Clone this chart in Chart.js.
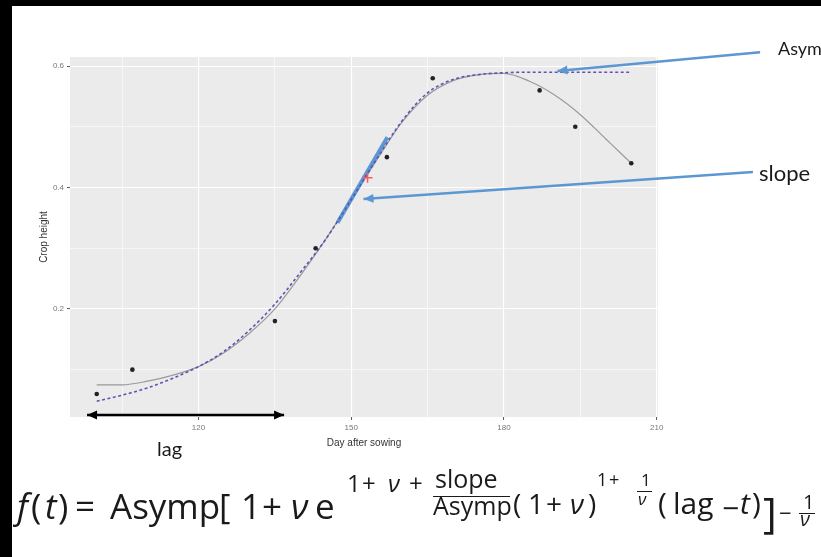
<!DOCTYPE html>
<html>
<head>
    <title>Crop height growth curve</title>
    <script src="https://cdn.jsdelivr.net/npm/chart.js"></script>
    <style>
        body { margin: 0; background: #fff; }
        #wrap { position: relative; width: 821px; height: 557px; overflow: hidden; }
        #notes span { position: absolute; line-height: 0; white-space: pre; color: #1a1a1a; }
        #notes .bar { position: absolute; height: 0; border-top: 1.5px solid #1a1a1a; }
        .lbl { font-family: 'Lato', sans-serif; }
        .fm { font-family: 'Open Sans', sans-serif; }
    </style>
</head>
<body>
<div id="wrap">
    <canvas id="growth"></canvas>
    <div id="notes"></div>
</div>

<script>
    // observed crop heights
    const pointX = [100, 107, 135, 143, 157, 166, 187, 194, 205];
    const pointY = [0.06, 0.10, 0.18, 0.30, 0.45, 0.58, 0.56, 0.50, 0.44];

    // curves
    const curveX = [100, 105, 110, 115, 120, 125, 130, 135, 140, 145, 150, 155, 160, 165, 170, 175, 180, 185, 190, 195, 200, 205];
    const loessY = [0.075, 0.075, 0.081, 0.091, 0.105, 0.128, 0.160, 0.200, 0.255, 0.315, 0.380, 0.445, 0.508, 0.552, 0.576, 0.586, 0.588, 0.575, 0.552, 0.520, 0.480, 0.440];
    const fitY   = [0.048, 0.058, 0.070, 0.086, 0.105, 0.130, 0.165, 0.208, 0.260, 0.315, 0.380, 0.447, 0.510, 0.556, 0.578, 0.586, 0.589, 0.590, 0.590, 0.590, 0.590, 0.590];

    // slope at inflection point
    const tangentX = [147.3, 157.1];
    const tangentY = [0.342, 0.483];
    const inflectionX = [153.2];
    const inflectionY = [0.416];

    // axes
    const xMin = 94.75, xMax = 210.25;
    const yMin = 0.022, yMax = 0.615;
    const xTicks = [105, 120, 135, 150, 165, 180, 195, 210];
    const xTickLabels = ['', '120', '', '150', '', '180', '', '210'];
    const yTicks = [0.1, 0.2, 0.3, 0.4, 0.5, 0.6];
    const yTickLabels = ['', '0.2', '', '0.4', '', '0.6'];

    // annotation arrows, in data units
    const asympArrow = [[230.3, 0.623], [190.5, 0.592]];
    const slopeArrow = [[228.9, 0.4255], [152.4, 0.381]];
    const lagArrow = [[98.1, 0.0255], [136.8, 0.0255]];

    const zip = (xs, ys) => xs.map((x, i) => ({x: x, y: ys[i]}));
    const blue = '#5b97d3';

    function arrowHead(ctx, x1, y1, x2, y2, len, half) {
        const a = Math.atan2(y2 - y1, x2 - x1);
        ctx.beginPath();
        ctx.moveTo(x2, y2);
        ctx.lineTo(x2 - len * Math.cos(a) + half * Math.sin(a), y2 - len * Math.sin(a) - half * Math.cos(a));
        ctx.lineTo(x2 - len * Math.cos(a) - half * Math.sin(a), y2 - len * Math.sin(a) + half * Math.cos(a));
        ctx.closePath();
        ctx.fill();
    }

    function arrow(chart, pts, color, width, both) {
        const ctx = chart.ctx, sx = chart.scales.x, sy = chart.scales.y;
        const x1 = sx.getPixelForValue(pts[0][0]), y1 = sy.getPixelForValue(pts[0][1]);
        const x2 = sx.getPixelForValue(pts[1][0]), y2 = sy.getPixelForValue(pts[1][1]);
        ctx.save();
        ctx.strokeStyle = color;
        ctx.fillStyle = color;
        ctx.lineWidth = width;
        ctx.beginPath();
        ctx.moveTo(x1, y1);
        ctx.lineTo(x2, y2);
        ctx.stroke();
        arrowHead(ctx, x1, y1, x2, y2, 10, 4.5);
        if (both) arrowHead(ctx, x2, y2, x1, y1, 10, 4.5);
        ctx.restore();
    }

    const panel = {
        id: 'panel',
        beforeDraw(chart) {
            const {ctx, chartArea: a} = chart;
            ctx.save();
            ctx.fillStyle = '#fff';
            ctx.fillRect(0, 0, chart.width, chart.height);
            ctx.fillStyle = '#ebebeb';
            ctx.fillRect(a.left, a.top, a.right - a.left, a.bottom - a.top);
            ctx.restore();
        },
        afterDraw(chart) {
            arrow(chart, asympArrow, blue, 2.5, false);
            arrow(chart, slopeArrow, blue, 2.5, false);
            arrow(chart, lagArrow, '#000', 2.5, true);
            const ctx = chart.ctx;
            ctx.save();
            ctx.fillStyle = '#000';
            ctx.fillRect(0, 0, chart.width, 6);
            ctx.fillRect(0, 0, 12, chart.height);
            ctx.restore();
        }
    };

    const gridColor = '#ffffff';
    const isMajor = (labels, i) => labels[i] !== '';

    new Chart(document.getElementById('growth'), {
        type: 'scatter',
        data: {
            datasets: [
                {
                    label: 'observed',
                    data: zip(pointX, pointY),
                    backgroundColor: '#222',
                    borderWidth: 0,
                    pointRadius: 2.3
                },
                {
                    label: 'inflection',
                    data: zip(inflectionX, inflectionY),
                    pointStyle: 'cross',
                    borderColor: '#ff5a5a',
                    borderWidth: 1.5,
                    pointRadius: 5
                },
                {
                    label: 'fitted',
                    data: zip(curveX, fitY),
                    showLine: true,
                    borderColor: '#5e55b2',
                    borderWidth: 1.6,
                    borderDash: [3, 2.5],
                    pointRadius: 0,
                    cubicInterpolationMode: 'monotone'
                },
                {
                    label: 'slope',
                    data: zip(tangentX, tangentY),
                    showLine: true,
                    borderColor: blue,
                    borderWidth: 4,
                    pointRadius: 0
                },
                {
                    label: 'loess',
                    data: zip(curveX, loessY),
                    showLine: true,
                    borderColor: '#9a9a9a',
                    borderWidth: 1.2,
                    pointRadius: 0,
                    cubicInterpolationMode: 'monotone'
                }
            ]
        },
        options: {
            responsive: true,
            maintainAspectRatio: false,
            animation: false,
            devicePixelRatio: 1,
            layout: { padding: { left: 34, right: 163, top: 57, bottom: 104 } },
            plugins: { legend: { display: false }, tooltip: { enabled: false } },
            scales: {
                x: {
                    type: 'linear',
                    min: xMin,
                    max: xMax,
                    afterBuildTicks: s => { s.ticks = xTicks.map(v => ({value: v})); },
                    afterFit: s => { s.height = 36; },
                    border: { display: false },
                    grid: {
                        color: gridColor,
                        lineWidth: c => isMajor(xTickLabels, c.index) ? 1.1 : 0.55,
                        tickColor: c => isMajor(xTickLabels, c.index) ? '#555' : 'rgba(0,0,0,0)',
                        tickLength: 3,
                        tickWidth: 1
                    },
                    ticks: {
                        autoSkip: false,
                        maxRotation: 0,
                        padding: 3,
                        color: '#777',
                        font: { family: 'Liberation Sans', size: 8 },
                        callback: (v, i) => xTickLabels[i]
                    },
                    title: {
                        display: true,
                        text: 'Day after sowing',
                        color: '#333',
                        font: { family: 'Liberation Sans', size: 10 },
                        padding: { top: 2, bottom: 4 }
                    }
                },
                y: {
                    min: yMin,
                    max: yMax,
                    afterBuildTicks: s => { s.ticks = yTicks.map(v => ({value: v})); },
                    afterFit: s => { s.width = 36; },
                    border: { display: false },
                    grid: {
                        color: gridColor,
                        lineWidth: c => isMajor(yTickLabels, c.index) ? 1.1 : 0.55,
                        tickColor: c => isMajor(yTickLabels, c.index) ? '#555' : 'rgba(0,0,0,0)',
                        tickLength: 3,
                        tickWidth: 1
                    },
                    ticks: {
                        autoSkip: false,
                        padding: 3,
                        color: '#777',
                        font: { family: 'Liberation Sans', size: 8 },
                        callback: (v, i) => yTickLabels[i]
                    },
                    title: {
                        display: true,
                        text: 'Crop height',
                        color: '#333',
                        font: { family: 'Liberation Sans', size: 10 },
                        padding: { top: 4, bottom: 2 }
                    }
                }
            }
        },
        plugins: [panel]
    });

    // labels and the Richards growth formula as html text
    // [text, left, baseline, size, italic, class]
    const notes = [
        ['Asymp', 778, 55, 18, false, 'lbl'],
        ['slope', 759, 182, 22, false, 'lbl'],
        ['lag', 157, 456, 20, false, 'lbl'],
        ['f', 17, 520, 35, true, 'fm'], ['(', 31, 520, 35, false, 'fm'], ['t', 45, 520, 35, true, 'fm'], [')', 58, 520, 35, false, 'fm'],
        ['=', 75, 520, 35, false, 'fm'], ['Asymp', 110, 520, 35, false, 'fm'], ['[', 219, 520, 35, false, 'fm'],
        ['1', 241, 520, 35, false, 'fm'], ['+', 262, 520, 35, false, 'fm'], ['ν', 291, 520, 35, true, 'fm'], ['e', 315, 520, 35, false, 'fm'],
        ['1', 347, 492, 24, false, 'fm'], ['+', 362, 492, 24, false, 'fm'], ['ν', 388, 492, 24, true, 'fm'], ['+', 409, 492, 24, false, 'fm'],
        ['slope', 435, 488, 25, false, 'fm'], ['Asymp', 433, 515, 25, false, 'fm'],
        ['(', 513, 514, 28, false, 'fm'], ['1', 528, 514, 28, false, 'fm'], ['+', 546, 514, 28, false, 'fm'], ['ν', 570, 514, 28, true, 'fm'], [')', 588, 514, 28, false, 'fm'],
        ['1', 597, 486, 18, false, 'fm'], ['+', 609, 486, 18, false, 'fm'],
        ['1', 641, 487, 17, false, 'fm'], ['ν', 638, 506, 17, true, 'fm'],
        ['(', 658, 515, 30, false, 'fm'], ['lag', 673, 515, 30, false, 'fm'], ['−', 722, 520, 30, false, 'fm'], ['t', 740, 515, 30, true, 'fm'], [')', 752, 515, 30, false, 'fm'],
        [']', 763, 528, 42, false, 'fm'], ['−', 779, 521, 22, false, 'fm'],
        ['1', 803, 510, 20, false, 'fm'], ['ν', 800, 527, 20, true, 'fm']
    ];
    const fractionBars = [[433, 510, 496], [637, 652, 491], [799, 815, 513]];

    const box = document.getElementById('notes');
    notes.forEach(([t, x, b, s, it, cls]) => {
        const el = document.createElement('span');
        el.className = cls;
        el.textContent = t;
        el.style.left = x + 'px';
        el.style.top = (b - 0.388 * s) + 'px';
        el.style.fontSize = s + 'px';
        if (it) el.style.fontStyle = 'italic';
        box.appendChild(el);
    });
    fractionBars.forEach(([x1, x2, y]) => {
        const el = document.createElement('div');
        el.className = 'bar';
        el.style.left = x1 + 'px';
        el.style.width = (x2 - x1) + 'px';
        el.style.top = y + 'px';
        box.appendChild(el);
    });
</script>
</body>
</html>
